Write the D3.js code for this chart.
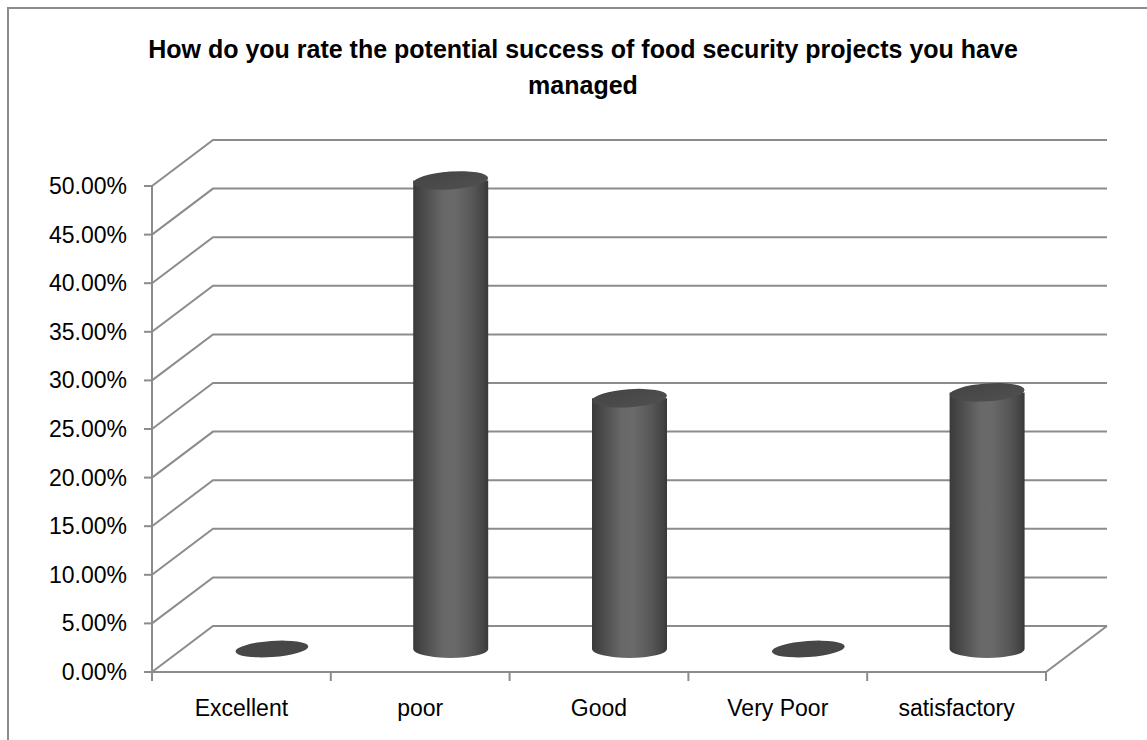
<!DOCTYPE html>
<html><head><meta charset="utf-8">
<script src="https://cdn.jsdelivr.net/npm/d3@7"></script>
<style>body{margin:0;background:#fff;overflow:hidden}</style>
</head><body><svg id="c" width="1147" height="740"></svg>
<script>
const categories = ["Excellent", "poor", "Good", "Very Poor", "satisfactory"];
const values = [0, 48.2, 25.8, 0, 26.4];
const yTicks = [0, 5, 10, 15, 20, 25, 30, 35, 40, 45, 50];
const titleLines = ["How do you rate the potential success of food security projects you have", "managed"];

const svg = d3.select("#c");
const x0 = 152, x1 = 1046, yBase = 672, yTop = 186;
const dx = 61, dy = -46;
const grid = "#8c8c8c";
const font = "'Liberation Sans', Arial, sans-serif";

const x = d3.scaleBand().domain(categories).range([x0, x1]);
const y = d3.scaleLinear().domain([0, 50]).range([yBase, yTop]);

// outer border
svg.append("rect").attr("x", 8).attr("y", 8).attr("width", 1300).attr("height", 900)
  .attr("fill", "#fff").attr("stroke", grid).attr("stroke-width", 2);

// gradient
const defs = svg.append("defs");
const g = defs.append("linearGradient").attr("id", "cyl").attr("x1", "0").attr("x2", "1").attr("y1", "0").attr("y2", "0");
[[0, "#3a3a3a"], [0.12, "#484848"], [0.4, "#686868"], [0.55, "#6a6a6a"], [0.8, "#565656"], [0.94, "#444444"], [1, "#383838"]]
  .forEach(([o, c]) => g.append("stop").attr("offset", o).attr("stop-color", c));
const gt = defs.append("linearGradient").attr("id", "top").attr("x1", "0").attr("x2", "1").attr("y1", "0").attr("y2", "1");
[[0, "#444"], [1, "#505050"]].forEach(([o, c]) => gt.append("stop").attr("offset", o).attr("stop-color", c));

// gridlines (side wall + back wall)
svg.append("g").selectAll("path").data(yTicks).join("path")
  .attr("d", t => `M${x0},${y(t)}L${x0 + dx},${y(t) + dy}L${x1 + dx},${y(t) + dy}`)
  .attr("fill", "none").attr("stroke", grid).attr("stroke-width", 2);

// floor front + right edge
svg.append("path").attr("d", `M${x0},${yBase}L${x1},${yBase}L${x1 + dx},${yBase + dy}`)
  .attr("fill", "none").attr("stroke", grid).attr("stroke-width", 2);

// value axis line + ticks
svg.append("path").attr("d", `M${x0},${y(50)}L${x0},${yBase}`).attr("stroke", grid).attr("stroke-width", 2);
svg.append("g").selectAll("path").data(yTicks).join("path")
  .attr("d", t => `M${x0 - 8},${y(t)}L${x0},${y(t)}`).attr("stroke", grid).attr("stroke-width", 2);

// category ticks
const bounds = d3.range(categories.length + 1).map(i => x0 + i * x.step());
svg.append("g").selectAll("path").data(bounds).join("path")
  .attr("d", b => `M${b},${yBase}L${b},${yBase + 9}`).attr("stroke", grid).attr("stroke-width", 2);

// y labels
svg.append("g").selectAll("text").data(yTicks).join("text")
  .attr("x", 127).attr("y", t => y(t) + 8).attr("text-anchor", "end")
  .attr("font-family", font).attr("font-size", 23).attr("fill", "#000")
  .text(t => d3.format(".2f")(t) + "%");

// category labels
svg.append("g").selectAll("text").data(categories).join("text")
  .attr("x", c => x(c) + x.bandwidth() / 2).attr("y", 716).attr("text-anchor", "middle")
  .attr("font-family", font).attr("font-size", 23).attr("fill", "#000")
  .text(c => c);

// cylinders
const rx = 37.5, ry = 9, tilt = -4;
const data = categories.map((c, i) => ({ c, v: values[i] }));
const bars = svg.append("g").selectAll("g").data(data).join("g");
bars.each(function (d) {
  const sel = d3.select(this);
  const cx = x(d.c) + x.bandwidth() / 2 + dx / 2;
  const yb = y(0) + dy / 2;
  const yt = y(d.v) + dy / 2;
  if (d.v > 0) {
    sel.append("path")
      .attr("d", `M${cx - rx},${yt}L${cx - rx},${yb}A${rx},${ry} 0 0 0 ${cx + rx},${yb}L${cx + rx},${yt}Z`)
      .attr("fill", "url(#cyl)");
    sel.append("ellipse").attr("cx", cx).attr("cy", yt).attr("rx", rx).attr("ry", ry)
      .attr("transform", `rotate(${tilt},${cx},${yt})`).attr("fill", "url(#top)");
  } else {
    sel.append("ellipse").attr("cx", cx).attr("cy", yb).attr("rx", rx - 1).attr("ry", ry - 1)
      .attr("transform", `rotate(${tilt},${cx},${yb})`).attr("fill", "#474747");
  }
});

// title
svg.append("g").selectAll("text").data(titleLines).join("text")
  .attr("x", 583).attr("y", (d, i) => 58 + i * 36).attr("text-anchor", "middle")
  .attr("font-family", font).attr("font-weight", "bold").attr("font-size", 25).attr("fill", "#000")
  .text(d => d);
</script></body></html>
